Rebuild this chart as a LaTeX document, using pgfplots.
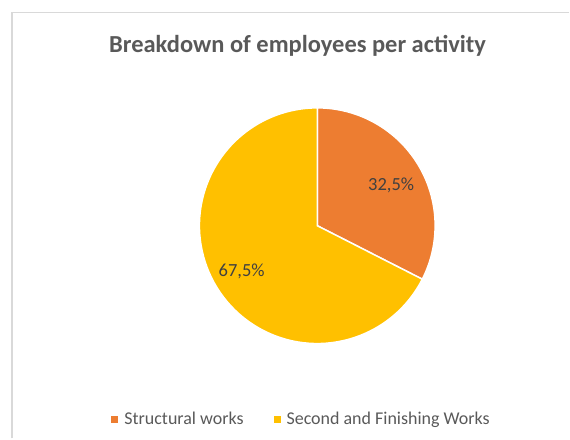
\documentclass[border=0pt]{standalone}
\usepackage{pgfplots}
\pgfplotsset{compat=1.18}
\usepackage{pgfplotstable}
\usepackage{fontspec}
\setmainfont{Carlito}
\definecolor{sliceA}{HTML}{ED7D31}
\definecolor{sliceB}{HTML}{FFC000}
\definecolor{txtgray}{HTML}{595959}
\definecolor{lblgray}{HTML}{404040}
\definecolor{framegray}{HTML}{D9D9D9}

\pgfplotstableread{
activity share
Structural 32.5
Second 67.5
}\piedata

\begin{document}
\begin{tikzpicture}
\pgfplotstablegetelem{0}{share}\of\piedata \let\sa\pgfplotsretval
\pgfplotstablegetelem{1}{share}\of\piedata \let\sb\pgfplotsretval
\pgfmathsetmacro\angA{90-3.6*\sa}
\pgfmathsetmacro\angB{\angA-3.6*\sb}
\begin{axis}[
    x=1pt, y=1pt,
    xmin=0, xmax=570, ymin=0, ymax=439,
    scale only axis, hide axis, clip=false,
    legend columns=2,
    legend image code/.code={\fill[#1, draw=none] (0pt,-3.5pt) rectangle (7pt,3.5pt); \path[draw=none, fill=none] (0pt,0pt) rectangle (11pt,0pt);},
    legend style={at={(axis cs:302,19)}, anchor=center, draw=none, fill=none,
        font=\fontsize{18}{21}\selectfont, text=txtgray,
        /tikz/every even column/.append style={column sep=28pt}},
]
\path (axis cs:0,0) rectangle (axis cs:570,439);
\draw[framegray, line width=1.5pt] (axis cs:12,0) -- (axis cs:12,426.5) -- (axis cs:570,426.5);
\node[font=\bfseries\fontsize{24.5}{28}\selectfont, text=txtgray] at (axis cs:298,393) {Breakdown of employees per activity};
\filldraw[fill=sliceA, draw=white, line width=1.5pt] (axis cs:317.7,213) -- ++(90:118pt) arc[start angle=90, end angle=\angA, radius=118pt] -- cycle;
\filldraw[fill=sliceB, draw=white, line width=1.5pt] (axis cs:317.7,213) -- ++(\angA:118pt) arc[start angle=\angA, end angle=\angB, radius=118pt] -- cycle;
\node[font=\fontsize{18.5}{21}\selectfont, text=lblgray] at (axis cs:391.7,253) {32,5\%};
\node[font=\fontsize{18.5}{21}\selectfont, text=lblgray] at (axis cs:242,167.3) {67,5\%};
\addlegendimage{sliceA}
\addlegendentry{Structural works}
\addlegendimage{sliceB}
\addlegendentry{Second and Finishing Works}
\end{axis}
\end{tikzpicture}
\end{document}
